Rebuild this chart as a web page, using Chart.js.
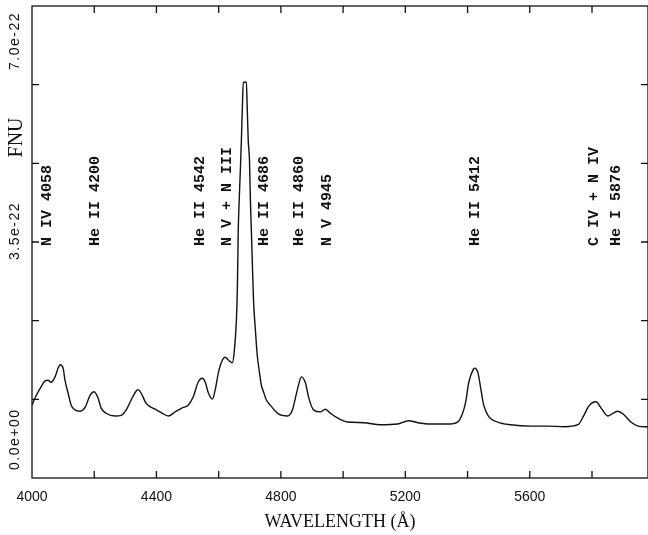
<!DOCTYPE html>
<html lang="en">
<head>
<meta charset="UTF-8" />
<title>FNU vs wavelength</title>
<script src="https://cdn.jsdelivr.net/npm/chart.js"></script>
<style>
  body { margin: 0; background: #fff; }
  canvas { display: block; }
</style>
</head>
<body>
<canvas id="spectrum" width="648" height="535"></canvas>
<script>
  // flux is kept in units of 1e-22
  const FLUX_UNIT = 1e-22;

  const wavelength = [
    4000, 4010, 4029, 4042, 4052, 4061, 4074, 4084, 4090, 4100,
    4106, 4116, 4126, 4138, 4155, 4171, 4187, 4200, 4212, 4222,
    4238, 4267, 4287, 4303, 4319, 4335, 4341, 4354, 4364, 4373,
    4396, 4419, 4438, 4460, 4483, 4502, 4518, 4534, 4547, 4557,
    4567, 4580, 4589, 4599, 4612, 4621, 4631, 4644, 4650, 4657,
    4660, 4663, 4666, 4670, 4673, 4676, 4679, 4689, 4692, 4695,
    4699, 4702, 4705, 4708, 4712, 4718, 4724, 4731, 4737, 4744,
    4753, 4766, 4792, 4821, 4837, 4853, 4866, 4879, 4889, 4905,
    4927, 4943, 4959, 4982, 5014, 5066, 5120, 5175, 5211, 5240,
    5281, 5336, 5368, 5384, 5394, 5404, 5417, 5423, 5433, 5442,
    5452, 5468, 5497, 5539, 5603, 5658, 5710, 5755, 5774, 5790,
    5813, 5829, 5851, 5867, 5883, 5900, 5925, 5948, 5980
  ];
  const flux = [
    1.08, 1.19, 1.35, 1.44, 1.45, 1.42, 1.50, 1.63, 1.68, 1.63,
    1.45, 1.26, 1.08, 1.01, 0.99, 1.05, 1.23, 1.28, 1.19, 1.04,
    0.96, 0.92, 0.93, 1.01, 1.16, 1.29, 1.31, 1.23, 1.13, 1.08,
    1.02, 0.96, 0.92, 0.98, 1.04, 1.08, 1.20, 1.42, 1.48, 1.42,
    1.26, 1.17, 1.31, 1.56, 1.75, 1.79, 1.75, 1.71, 1.87, 2.34,
    2.79, 3.68, 4.12, 4.61, 5.01, 5.46, 5.87, 5.87, 5.46, 5.01,
    4.72, 4.12, 3.68, 3.23, 2.64, 2.20, 1.82, 1.57, 1.38, 1.28,
    1.16, 1.08, 0.95, 0.92, 1.01, 1.31, 1.50, 1.41, 1.20, 1.01,
    0.98, 1.02, 0.96, 0.89, 0.83, 0.82, 0.79, 0.80, 0.85, 0.82,
    0.80, 0.80, 0.83, 0.96, 1.13, 1.42, 1.60, 1.63, 1.57, 1.34,
    1.08, 0.91, 0.83, 0.79, 0.77, 0.77, 0.76, 0.79, 0.93, 1.07,
    1.13, 1.04, 0.92, 0.96, 0.99, 0.95, 0.83, 0.77, 0.76
  ];

  const xTicks = [4000, 4200, 4400, 4600, 4800, 5000, 5200, 5400, 5600, 5800];
  const xLabelEvery = 400;
  const yTicks = [0, 1.1667, 2.3333, 3.5, 4.6667, 5.8333, 7.0];
  const yLabelled = [0, 3.5, 7.0];

  const lineNames = [
    'N IV 4058', 'He II 4200', 'He II 4542', 'N V + N III', 'He II 4686',
    'He II 4860', 'N V 4945', 'He II 5412', 'C IV + N IV', 'He I 5876'
  ];
  const lineNameAt = [4048, 4203, 4541, 4628, 4747, 4860, 4950, 5426, 5806, 5877];
  const lineNameBase = 3.44;  // flux level where the rotated names start
  const fluxTitleAt = 5.05;

  function sci(v) {
    return (v * FLUX_UNIT).toExponential(1)
      .replace(/e([+-])(\d)$/, (m, s, d) => 'e' + s + '0' + d);
  }

  function rotatedText(ctx, text, x, y, align) {
    ctx.save();
    ctx.translate(x, y);
    ctx.rotate(-Math.PI / 2);
    ctx.textAlign = align;
    ctx.textBaseline = 'middle';
    ctx.fillText(text, 0, 0);
    ctx.restore();
  }

  const frame = {
    id: 'frame',
    afterDatasetsDraw(chart) {
      const { ctx, chartArea: a, scales: { x, y } } = chart;
      ctx.save();
      ctx.strokeStyle = '#111';
      ctx.lineWidth = 1.3;
      ctx.strokeRect(a.left, a.top, a.right - a.left, a.bottom - a.top);

      // inward tick marks on all four sides
      ctx.beginPath();
      x.ticks.forEach(t => {
        const px = x.getPixelForValue(t.value);
        if (px <= a.left + 1) return;
        ctx.moveTo(px, a.bottom); ctx.lineTo(px, a.bottom - 7);
        ctx.moveTo(px, a.top); ctx.lineTo(px, a.top + 7);
      });
      y.ticks.forEach(t => {
        const py = y.getPixelForValue(t.value);
        if (py >= a.bottom - 1 || py <= a.top + 1) return;
        ctx.moveTo(a.left, py); ctx.lineTo(a.left + 7, py);
        ctx.moveTo(a.right, py); ctx.lineTo(a.right - 7, py);
      });
      ctx.stroke();

      ctx.fillStyle = '#111';

      // y tick labels, rotated and letter-spaced
      ctx.font = '14px "Liberation Sans"';
      ctx.letterSpacing = '1.5px';
      yLabelled.forEach((v, i) => {
        const py = y.getPixelForValue(v);
        if (i === 0) rotatedText(ctx, sci(v), a.left - 17, py - 8, 'left');
        else if (i === yLabelled.length - 1) rotatedText(ctx, sci(v), a.left - 17, py + 6, 'right');
        else rotatedText(ctx, sci(v), a.left - 17, py - 11, 'center');
      });
      ctx.letterSpacing = '0px';

      ctx.font = '20px "Liberation Serif"';
      rotatedText(ctx, 'FNU', a.left - 15, y.getPixelForValue(fluxTitleAt), 'center');

      // emission line identifications
      ctx.font = 'bold 15px "Liberation Mono"';
      const base = y.getPixelForValue(lineNameBase);
      lineNames.forEach((name, i) => {
        rotatedText(ctx, name, x.getPixelForValue(lineNameAt[i]), base, 'left');
      });
      ctx.restore();
    }
  };

  new Chart(document.getElementById('spectrum'), {
    type: 'line',
    data: {
      datasets: [{
        data: wavelength.map((w, i) => ({ x: w, y: flux[i] })),
        borderColor: '#111',
        borderWidth: 1.4,
        pointRadius: 0,
        fill: false,
        cubicInterpolationMode: 'monotone'
      }]
    },
    options: {
      responsive: false,
      animation: false,
      layout: { padding: { top: 6, right: 0, left: 0, bottom: 0 } },
      plugins: { legend: { display: false }, tooltip: { enabled: false } },
      scales: {
        x: {
          type: 'linear',
          min: 4000,
          max: 5980,
          grid: { display: false, drawTicks: false },
          border: { display: false },
          afterBuildTicks: s => { s.ticks = xTicks.map(v => ({ value: v })); },
          afterFit: s => { s.height = 57; },
          ticks: {
            autoSkip: false,
            maxRotation: 0,
            minRotation: 0,
            padding: 11,
            color: '#111',
            font: { family: 'Liberation Sans', size: 14 },
            callback: v => (v % xLabelEvery === 0 ? String(v) : '')
          },
          title: {
            display: true,
            text: 'WAVELENGTH (Å)',
            color: '#111',
            font: { family: 'Liberation Serif', size: 18 },
            padding: { top: 0, bottom: 2 }
          }
        },
        y: {
          min: 0,
          max: 7,
          grid: { display: false, drawTicks: false },
          border: { display: false },
          afterBuildTicks: s => { s.ticks = yTicks.map(v => ({ value: v })); },
          afterFit: s => { s.width = 32; },
          ticks: { display: false }
        }
      }
    },
    plugins: [frame]
  });
</script>
</body>
</html>
